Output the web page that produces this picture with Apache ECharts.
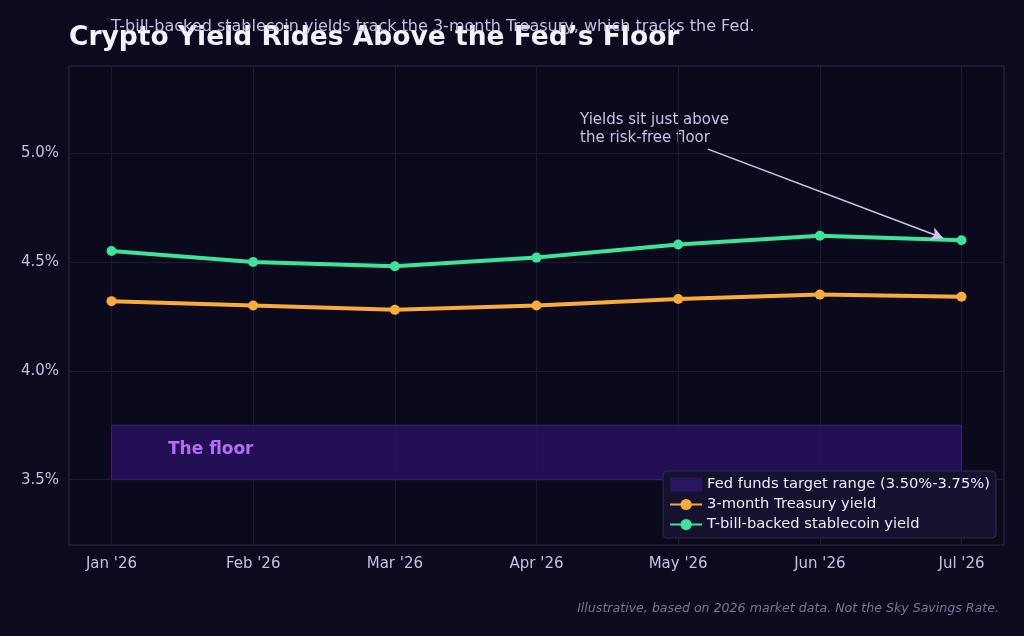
<!DOCTYPE html>
<html>
<head>
<meta charset="utf-8">
<script src="https://cdn.jsdelivr.net/npm/echarts@6/dist/echarts.min.js"></script>
<style>
  html, body { margin: 0; padding: 0; background: #0c0a1e; }
  #myChart { width: 1024px; height: 636px; }
</style>
</head>
<body>
<div id="myChart"></div>
<script>
// data
const months = ["Jan '26", "Feb '26", "Mar '26", "Apr '26", "May '26", "Jun '26", "Jul '26"];
const treasury = [4.32, 4.30, 4.28, 4.30, 4.33, 4.35, 4.34];
const stablecoin = [4.55, 4.50, 4.48, 4.52, 4.58, 4.62, 4.60];
const fedLow = 3.50;
const fedHigh = 3.75;
const yTicks = [3.5, 4.0, 4.5, 5.0];

const monthIdx = months.map((m, i) => i);
const txt = '#c4c0e4';
const font = 'DejaVu Sans';

let myChart = echarts.init(document.getElementById('myChart'));

let option = {
    backgroundColor: '#0c0a1e',
    textStyle: { fontFamily: font },
    animation: false,
    title: [
        {
            text: 'Crypto Yield Rides Above the Fed\u2019s Floor',
            left: 69, top: 25, padding: 0,
            textStyle: { color: '#f4f2ff', fontSize: 26.5, fontWeight: 'bold', fontFamily: font }
        },
        {
            text: 'T-bill-backed stablecoin yields track the 3-month Treasury, which tracks the Fed.',
            left: 111, top: 19, padding: 0,
            textStyle: { color: '#c4c0e4', fontSize: 16, fontWeight: 'normal', fontFamily: font }
        },
        {
            text: 'Illustrative, based on 2026 market data. Not the Sky Savings Rate.',
            right: 25, top: 602, padding: 0,
            textStyle: { color: '#7a7498', fontSize: 12.6, fontStyle: 'italic', fontWeight: 'normal', fontFamily: font }
        }
    ],
    grid: {
        left: 69, top: 66, width: 935, height: 479,
        show: true,
        backgroundColor: '#0b0a1d',
        borderColor: '#2c2a4a',
        borderWidth: 1
    },
    legend: {
        orient: 'vertical',
        right: 28,
        bottom: 98,
        padding: [6, 6, 6, 6],
        itemGap: 5,
        itemWidth: 32,
        itemHeight: 14,
        backgroundColor: '#151230',
        borderColor: '#2e2b4d',
        borderWidth: 1,
        borderRadius: 4,
        textStyle: { color: '#ece9f8', fontSize: 14.7, fontFamily: font },
        data: [
            { name: 'Fed funds target range (3.50%-3.75%)', icon: 'rect', itemStyle: { borderWidth: 0 } },
            { name: '3-month Treasury yield' },
            { name: 'T-bill-backed stablecoin yield' }
        ]
    },
    xAxis: {
        type: 'value',
        min: -0.3,
        max: 6.3,
        axisLine: { show: false },
        axisTick: { show: false, customValues: monthIdx },
        axisLabel: {
            customValues: monthIdx,
            color: txt, fontSize: 15, margin: 12,
            formatter: v => months[Math.round(v)]
        },
        splitLine: { show: true, lineStyle: { color: '#1d1b36', width: 1 } }
    },
    yAxis: {
        type: 'value',
        min: 3.2,
        max: 5.4,
        axisLine: { show: false },
        axisTick: { show: false, customValues: yTicks },
        axisLabel: {
            customValues: yTicks,
            color: txt, fontSize: 15, margin: 10,
            formatter: v => v.toFixed(1) + '%'
        },
        splitLine: { show: true, lineStyle: { color: '#1d1b36', width: 1 } }
    },
    graphic: [
        {
            type: 'text',
            left: 580, top: 111,
            style: {
                text: 'Yields sit just above\nthe risk-free floor',
                fill: '#c8c2e6', fontSize: 15, lineHeight: 18, fontFamily: font
            }
        }
    ],
    series: [
        {
            name: 'Fed funds target range (3.50%-3.75%)',
            type: 'line',
            data: [],
            itemStyle: { color: '#2a1660' },
            lineStyle: { color: '#2a1660' },
            markArea: {
                silent: true,
                itemStyle: {
                    color: 'rgba(38, 16, 88, 0.92)',
                    borderColor: '#3d1f7a',
                    borderWidth: 1
                },
                label: {
                    show: true,
                    position: 'insideLeft',
                    offset: [52, -3],
                    color: '#b070f0',
                    fontSize: 17,
                    fontWeight: 'bold',
                    fontFamily: font,
                    formatter: 'The floor'
                },
                data: [[{ xAxis: 0, yAxis: fedLow }, { xAxis: 6, yAxis: fedHigh }]]
            }
        },
        {
            name: '3-month Treasury yield',
            type: 'line',
            data: treasury.map((v, i) => [i, v]),
            symbol: 'circle',
            symbolSize: 10,
            lineStyle: { width: 4, color: '#fbab3c' },
            itemStyle: { color: '#fbab3c' },
            z: 3
        },
        {
            name: 'T-bill-backed stablecoin yield',
            type: 'line',
            data: stablecoin.map((v, i) => [i, v]),
            symbol: 'circle',
            symbolSize: 10,
            lineStyle: { width: 4, color: '#3ee39a' },
            itemStyle: { color: '#3ee39a' },
            z: 4,
            markLine: {
                silent: true,
                symbol: ['none', 'arrow'],
                symbolSize: [10, 12],
                lineStyle: { color: '#cfc6ee', width: 1.5, type: 'solid' },
                label: { show: false },
                data: [[{ coord: [4.21, 5.018] }, { coord: [5.87, 4.61] }]]
            }
        }
    ]
};

myChart.setOption(option);
</script>
</body>
</html>
